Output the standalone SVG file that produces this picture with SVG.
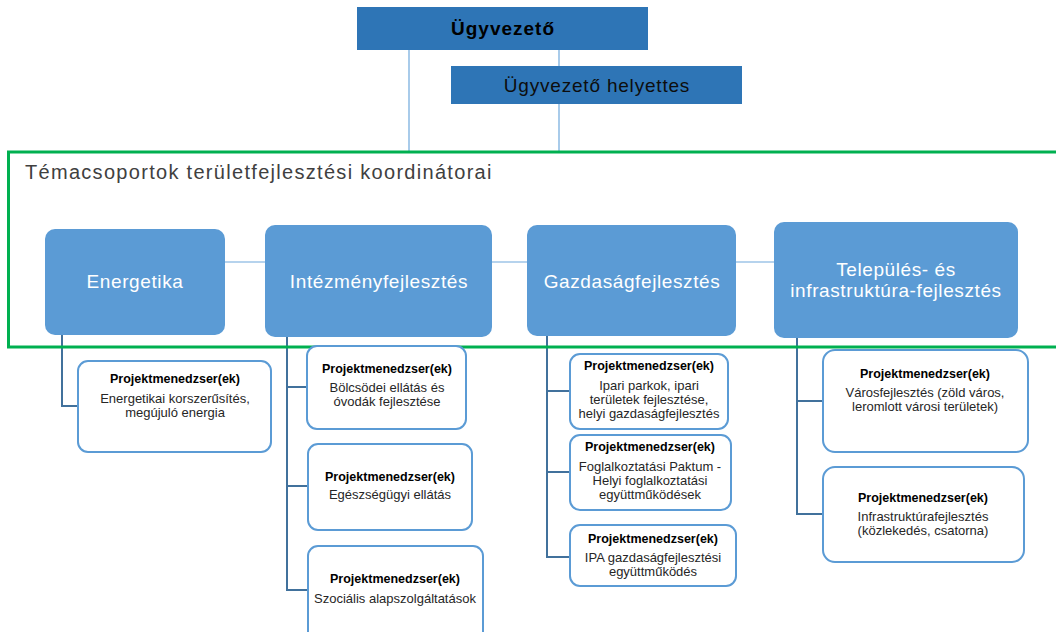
<svg xmlns="http://www.w3.org/2000/svg" width="1056" height="632" viewBox="0 0 1056 632">
<style>
  .top { fill: #2E75B6; }
  .coord { fill: #5B9BD5; }
  .sub { fill: #FFFFFF; stroke: #5B9BD5; stroke-width: 2; }
  .thin { stroke: #6FA8DC; stroke-width: 1.2; fill: none; }
  .link { stroke: #41719C; stroke-width: 2; fill: none; }
  .frame { fill: none; stroke: #00B050; stroke-width: 3; }
  text { font-family: "Liberation Sans", Arial, sans-serif; text-anchor: middle; }
  .boss { font-size: 19px; font-weight: bold; fill: #000000; letter-spacing: 1px; }
  .deputy { font-size: 19px; fill: #0D0D0D; letter-spacing: 0.8px; }
  .ttl { font-size: 20px; fill: #404040; text-anchor: start; letter-spacing: 1.3px; }
  .cl { font-size: 19px; fill: #FFFFFF; letter-spacing: 0.6px; }
  .ph { font-size: 12.5px; font-weight: bold; fill: #000000; }
  .pt { font-size: 13px; fill: #262626; }
</style>

<g id="connectors">
  <line class="thin" x1="409" y1="50" x2="409" y2="152"/>
  <line class="thin" x1="559" y1="50" x2="559" y2="66"/>
  <line class="thin" x1="559" y1="104" x2="559" y2="152"/>
  <line class="thin" x1="225" y1="262" x2="774" y2="262"/>
  <polyline class="link" points="62,335 62,406 78,406"/>
  <polyline class="link" points="287,337 287,590 308,590"/>
  <line class="link" x1="287" y1="387" x2="307" y2="387"/>
  <line class="link" x1="287" y1="486" x2="308" y2="486"/>
  <polyline class="link" points="547,336 547,557 570,557"/>
  <line class="link" x1="547" y1="391" x2="570" y2="391"/>
  <line class="link" x1="547" y1="472" x2="570" y2="472"/>
  <polyline class="link" points="797,338 797,514 823,514"/>
  <line class="link" x1="797" y1="401" x2="823" y2="401"/>
</g>

<g id="frame">
  <rect class="frame" x="8.5" y="152" width="1060" height="195"/>
  <text class="ttl" x="25" y="179">Témacsoportok területfejlesztési koordinátorai</text>
</g>

<g id="ugyvezeto">
  <rect class="top" x="357" y="7" width="291" height="43"/>
  <text class="boss" x="503" y="35">Ügyvezető</text>
</g>
<g id="helyettes">
  <rect class="top" x="451" y="66" width="291" height="38"/>
  <text class="deputy" x="597" y="92">Ügyvezető helyettes</text>
</g>

<g id="energetika">
  <rect class="coord" x="45" y="229" width="180" height="106" rx="10"/>
  <text class="cl" x="135" y="288">Energetika</text>
</g>
<g id="intezmeny">
  <rect class="coord" x="265" y="225" width="227" height="112" rx="10"/>
  <text class="cl" x="379" y="288">Intézményfejlesztés</text>
</g>
<g id="gazdasag">
  <rect class="coord" x="527" y="225" width="209" height="111" rx="10"/>
  <text class="cl" x="632" y="288">Gazdaságfejlesztés</text>
</g>
<g id="telepules">
  <rect class="coord" x="774" y="222" width="244" height="116" rx="10"/>
  <text class="cl" x="896" y="276">Település- és</text>
  <text class="cl" x="896" y="297">infrastruktúra-fejlesztés</text>
</g>

<g id="pm-energetika">
  <rect class="sub" x="78" y="361" width="193" height="91" rx="10"/>
  <text class="ph" x="175" y="383">Projektmenedzser(ek)</text>
  <text class="pt" x="175" y="403">Energetikai korszerűsítés,</text>
  <text class="pt" x="175" y="417">megújuló energia</text>
</g>

<g id="pm-bolcsode">
  <rect class="sub" x="307" y="346" width="159" height="83" rx="10"/>
  <text class="ph" x="387" y="373">Projektmenedzser(ek)</text>
  <text class="pt" x="387" y="392">Bölcsödei ellátás és</text>
  <text class="pt" x="387" y="406">óvodák fejlesztése</text>
</g>
<g id="pm-egeszseg">
  <rect class="sub" x="308" y="444" width="164" height="86" rx="10"/>
  <text class="ph" x="390" y="481">Projektmenedzser(ek)</text>
  <text class="pt" x="390" y="499">Egészségügyi ellátás</text>
</g>
<g id="pm-szocialis">
  <rect class="sub" x="308" y="546" width="175" height="100" rx="10"/>
  <text class="ph" x="395" y="583">Projektmenedzser(ek)</text>
  <text class="pt" x="395" y="603">Szociális alapszolgáltatások</text>
</g>

<g id="pm-ipari">
  <rect class="sub" x="570" y="354" width="158" height="75" rx="10"/>
  <text class="ph" x="649" y="370">Projektmenedzser(ek)</text>
  <text class="pt" x="649" y="390">Ipari parkok, ipari</text>
  <text class="pt" x="649" y="404">területek fejlesztése,</text>
  <text class="pt" x="649" y="418">helyi gazdaságfejlesztés</text>
</g>
<g id="pm-paktum">
  <rect class="sub" x="570" y="435" width="161" height="75" rx="10"/>
  <text class="ph" x="650" y="451">Projektmenedzser(ek)</text>
  <text class="pt" x="650" y="471">Foglalkoztatási Paktum -</text>
  <text class="pt" x="650" y="485">Helyi foglalkoztatási</text>
  <text class="pt" x="650" y="499">együttműködések</text>
</g>
<g id="pm-ipa">
  <rect class="sub" x="570" y="525" width="166" height="61" rx="10"/>
  <text class="ph" x="653" y="543">Projektmenedzser(ek)</text>
  <text class="pt" x="653" y="562">IPA gazdaságfejlesztési</text>
  <text class="pt" x="653" y="576">együttműködés</text>
</g>

<g id="pm-varos">
  <rect class="sub" x="823" y="350" width="205" height="102" rx="12"/>
  <text class="ph" x="925" y="378">Projektmenedzser(ek)</text>
  <text class="pt" x="925" y="397">Városfejlesztés (zöld város,</text>
  <text class="pt" x="925" y="411">leromlott városi területek)</text>
</g>
<g id="pm-infra">
  <rect class="sub" x="823" y="467" width="201" height="95" rx="12"/>
  <text class="ph" x="923" y="502">Projektmenedzser(ek)</text>
  <text class="pt" x="923" y="521">Infrastruktúrafejlesztés</text>
  <text class="pt" x="923" y="535">(közlekedés, csatorna)</text>
</g>
</svg>
